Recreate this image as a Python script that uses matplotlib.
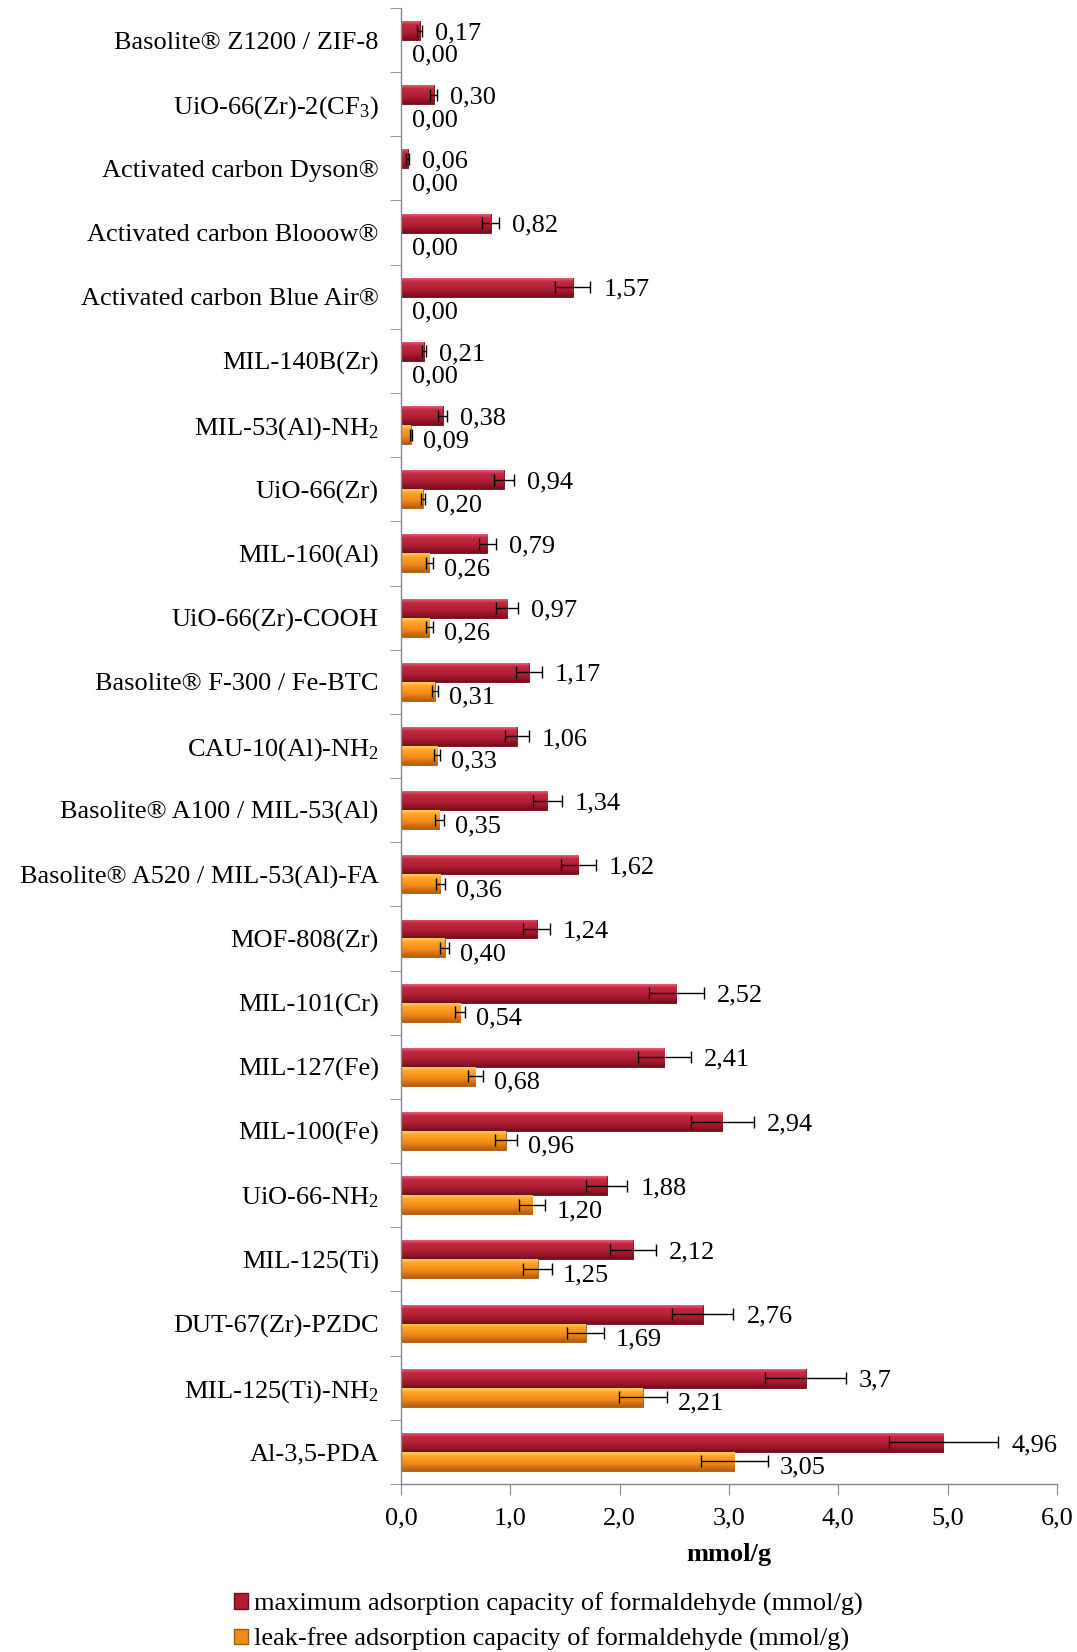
import numpy as np
import matplotlib
matplotlib.use("Agg")
import matplotlib.pyplot as plt
from matplotlib.colors import LinearSegmentedColormap
from matplotlib.patches import Patch
from matplotlib.ticker import FuncFormatter, FixedLocator

plt.rcParams['font.family'] = ['Liberation Serif', 'DejaVu Serif']
plt.rcParams['mathtext.fontset'] = 'custom'
plt.rcParams['mathtext.rm'] = 'Liberation Serif'
plt.rcParams['mathtext.it'] = 'Liberation Serif:italic'

# materials, top to bottom
materials = [
    "Basolite® Z1200 / ZIF-8",
    "UiO-66(Zr)-2(CF$_\\mathrm{3}$)",
    "Activated carbon Dyson®",
    "Activated carbon Blooow®",
    "Activated carbon Blue Air®",
    "MIL-140B(Zr)",
    "MIL-53(Al)-NH$_\\mathrm{2}$",
    "UiO-66(Zr)",
    "MIL-160(Al)",
    "UiO-66(Zr)-COOH",
    "Basolite® F-300 / Fe-BTC",
    "CAU-10(Al)-NH$_\\mathrm{2}$",
    "Basolite® A100 / MIL-53(Al)",
    "Basolite® A520 / MIL-53(Al)-FA",
    "MOF-808(Zr)",
    "MIL-101(Cr)",
    "MIL-127(Fe)",
    "MIL-100(Fe)",
    "UiO-66-NH$_\\mathrm{2}$",
    "MIL-125(Ti)",
    "DUT-67(Zr)-PZDC",
    "MIL-125(Ti)-NH$_\\mathrm{2}$",
    "Al-3,5-PDA",
]

# mmol/g
max_cap = [0.17, 0.30, 0.06, 0.82, 1.57, 0.21, 0.38, 0.94, 0.79, 0.97, 1.17, 1.06,
           1.34, 1.62, 1.24, 2.52, 2.41, 2.94, 1.88, 2.12, 2.76, 3.70, 4.96]
max_err = [0.02, 0.03, 0.01, 0.08, 0.16, 0.02, 0.04, 0.09, 0.08, 0.10, 0.12, 0.11,
           0.13, 0.16, 0.12, 0.25, 0.24, 0.29, 0.19, 0.21, 0.28, 0.37, 0.50]
leak_free = [0.00, 0.00, 0.00, 0.00, 0.00, 0.00, 0.09, 0.20, 0.26, 0.26, 0.31, 0.33,
             0.35, 0.36, 0.40, 0.54, 0.68, 0.96, 1.20, 1.25, 1.69, 2.21, 3.05]
leak_err = [0.00, 0.00, 0.00, 0.00, 0.00, 0.00, 0.01, 0.02, 0.03, 0.03, 0.03, 0.03,
            0.04, 0.04, 0.04, 0.05, 0.07, 0.10, 0.12, 0.13, 0.17, 0.22, 0.31]

legend_labels = ["maximum adsorption capacity of formaldehyde (mmol/g)",
                 "leak-free adsorption capacity of formaldehyde (mmol/g)"]

red_cmap = LinearSegmentedColormap.from_list(
    "red3d", [(0, "#e4607a"), (0.18, "#c22a40"), (0.6, "#b01d33"), (1, "#7a0c1a")])
orange_cmap = LinearSegmentedColormap.from_list(
    "orange3d", [(0, "#ffd060"), (0.2, "#ffa52a"), (0.6, "#f28a1a"), (1, "#b85c0c")])

n = len(materials)
y = np.arange(n)
h = 0.295
fs = 19


def fmt(v):
    s = f"{v:.2f}".replace(".", ",")
    # Excel general format drops the trailing zero on 3,70
    return "3,7" if s == "3,70" else s


fig = plt.figure(figsize=(10.77, 16.52), dpi=100)
ax = fig.add_axes([0.3723, 0.1017, 0.6091, 0.8935])

grad = np.linspace(0, 1, 64).reshape(-1, 1)


def shaded_bars(vals, yc, cmap, edge):
    bars = ax.barh(yc, vals, height=h, color=cmap(0.5), edgecolor=edge,
                   linewidth=0.6, zorder=2)
    for b in bars:
        x0, yb = b.get_x(), b.get_y()
        w, hh = b.get_width(), b.get_height()
        if w <= 0:
            continue
        im = ax.imshow(grad, extent=(x0, x0 + w, yb + hh, yb), cmap=cmap,
                       aspect='auto', origin='upper', zorder=2.5,
                       interpolation='bilinear')
        im.set_clip_path(b)
    return bars


red_y = y - h / 2
orange_y = y + h / 2
shaded_bars(max_cap, red_y, red_cmap, "#6e0c18")
shaded_bars(leak_free, orange_y, orange_cmap, "#a85a10")

mc = np.array(max_cap)
lf = np.array(leak_free)
me = np.array(max_err)
le = np.array(leak_err)

ax.errorbar(mc, red_y, xerr=me, fmt='none', ecolor='black', elinewidth=1,
            capsize=4, capthick=1, zorder=4)
nz = lf > 0
ax.errorbar(lf[nz], orange_y[nz], xerr=le[nz], fmt='none', ecolor='black',
            elinewidth=1, capsize=4, capthick=1, zorder=4)

for i in range(n):
    ax.text(mc[i] + me[i] + 0.12, red_y[i] + 0.04, fmt(mc[i]), fontsize=fs,
            va='center', ha='left', zorder=5)
    ax.text(lf[i] + le[i] + 0.10, orange_y[i] + 0.1, fmt(lf[i]), fontsize=fs,
            va='center', ha='left', zorder=5)

ax.set_xlim(0, 6)
ax.set_ylim(n - 0.5, -0.5)

ax.set_yticks(y)
ax.set_yticklabels(materials, fontsize=fs)
ax.yaxis.set_minor_locator(FixedLocator(np.arange(-0.5, n, 1.0)))
ax.tick_params(axis='y', which='major', length=0, pad=16)
ax.tick_params(axis='y', which='minor', length=8, color='#868686', direction='out')

ax.set_xticks(np.arange(0, 7, 1))
ax.xaxis.set_major_formatter(FuncFormatter(lambda v, p: f"{v:.1f}".replace(".", ",")))
ax.tick_params(axis='x', length=8, color='#868686', labelsize=fs, pad=9)

for side in ('top', 'right'):
    ax.spines[side].set_visible(False)
for side in ('left', 'bottom'):
    ax.spines[side].set_color('#868686')
    ax.spines[side].set_linewidth(1)

ax.set_xlabel("mmol/g", fontsize=fs, fontweight='bold', labelpad=10)

handles = [Patch(facecolor="#b01d33", edgecolor="#6e0c18"),
           Patch(facecolor="#f28a1a", edgecolor="#a85a10")]
fig.legend(handles, legend_labels, loc='upper left', bbox_to_anchor=(0.217, 0.036),
           frameon=False, fontsize=fs, handlelength=0.55, handleheight=0.55,
           handletextpad=0.2, labelspacing=0.45, borderpad=0, borderaxespad=0)

fig.savefig("out.png", dpi=100)
